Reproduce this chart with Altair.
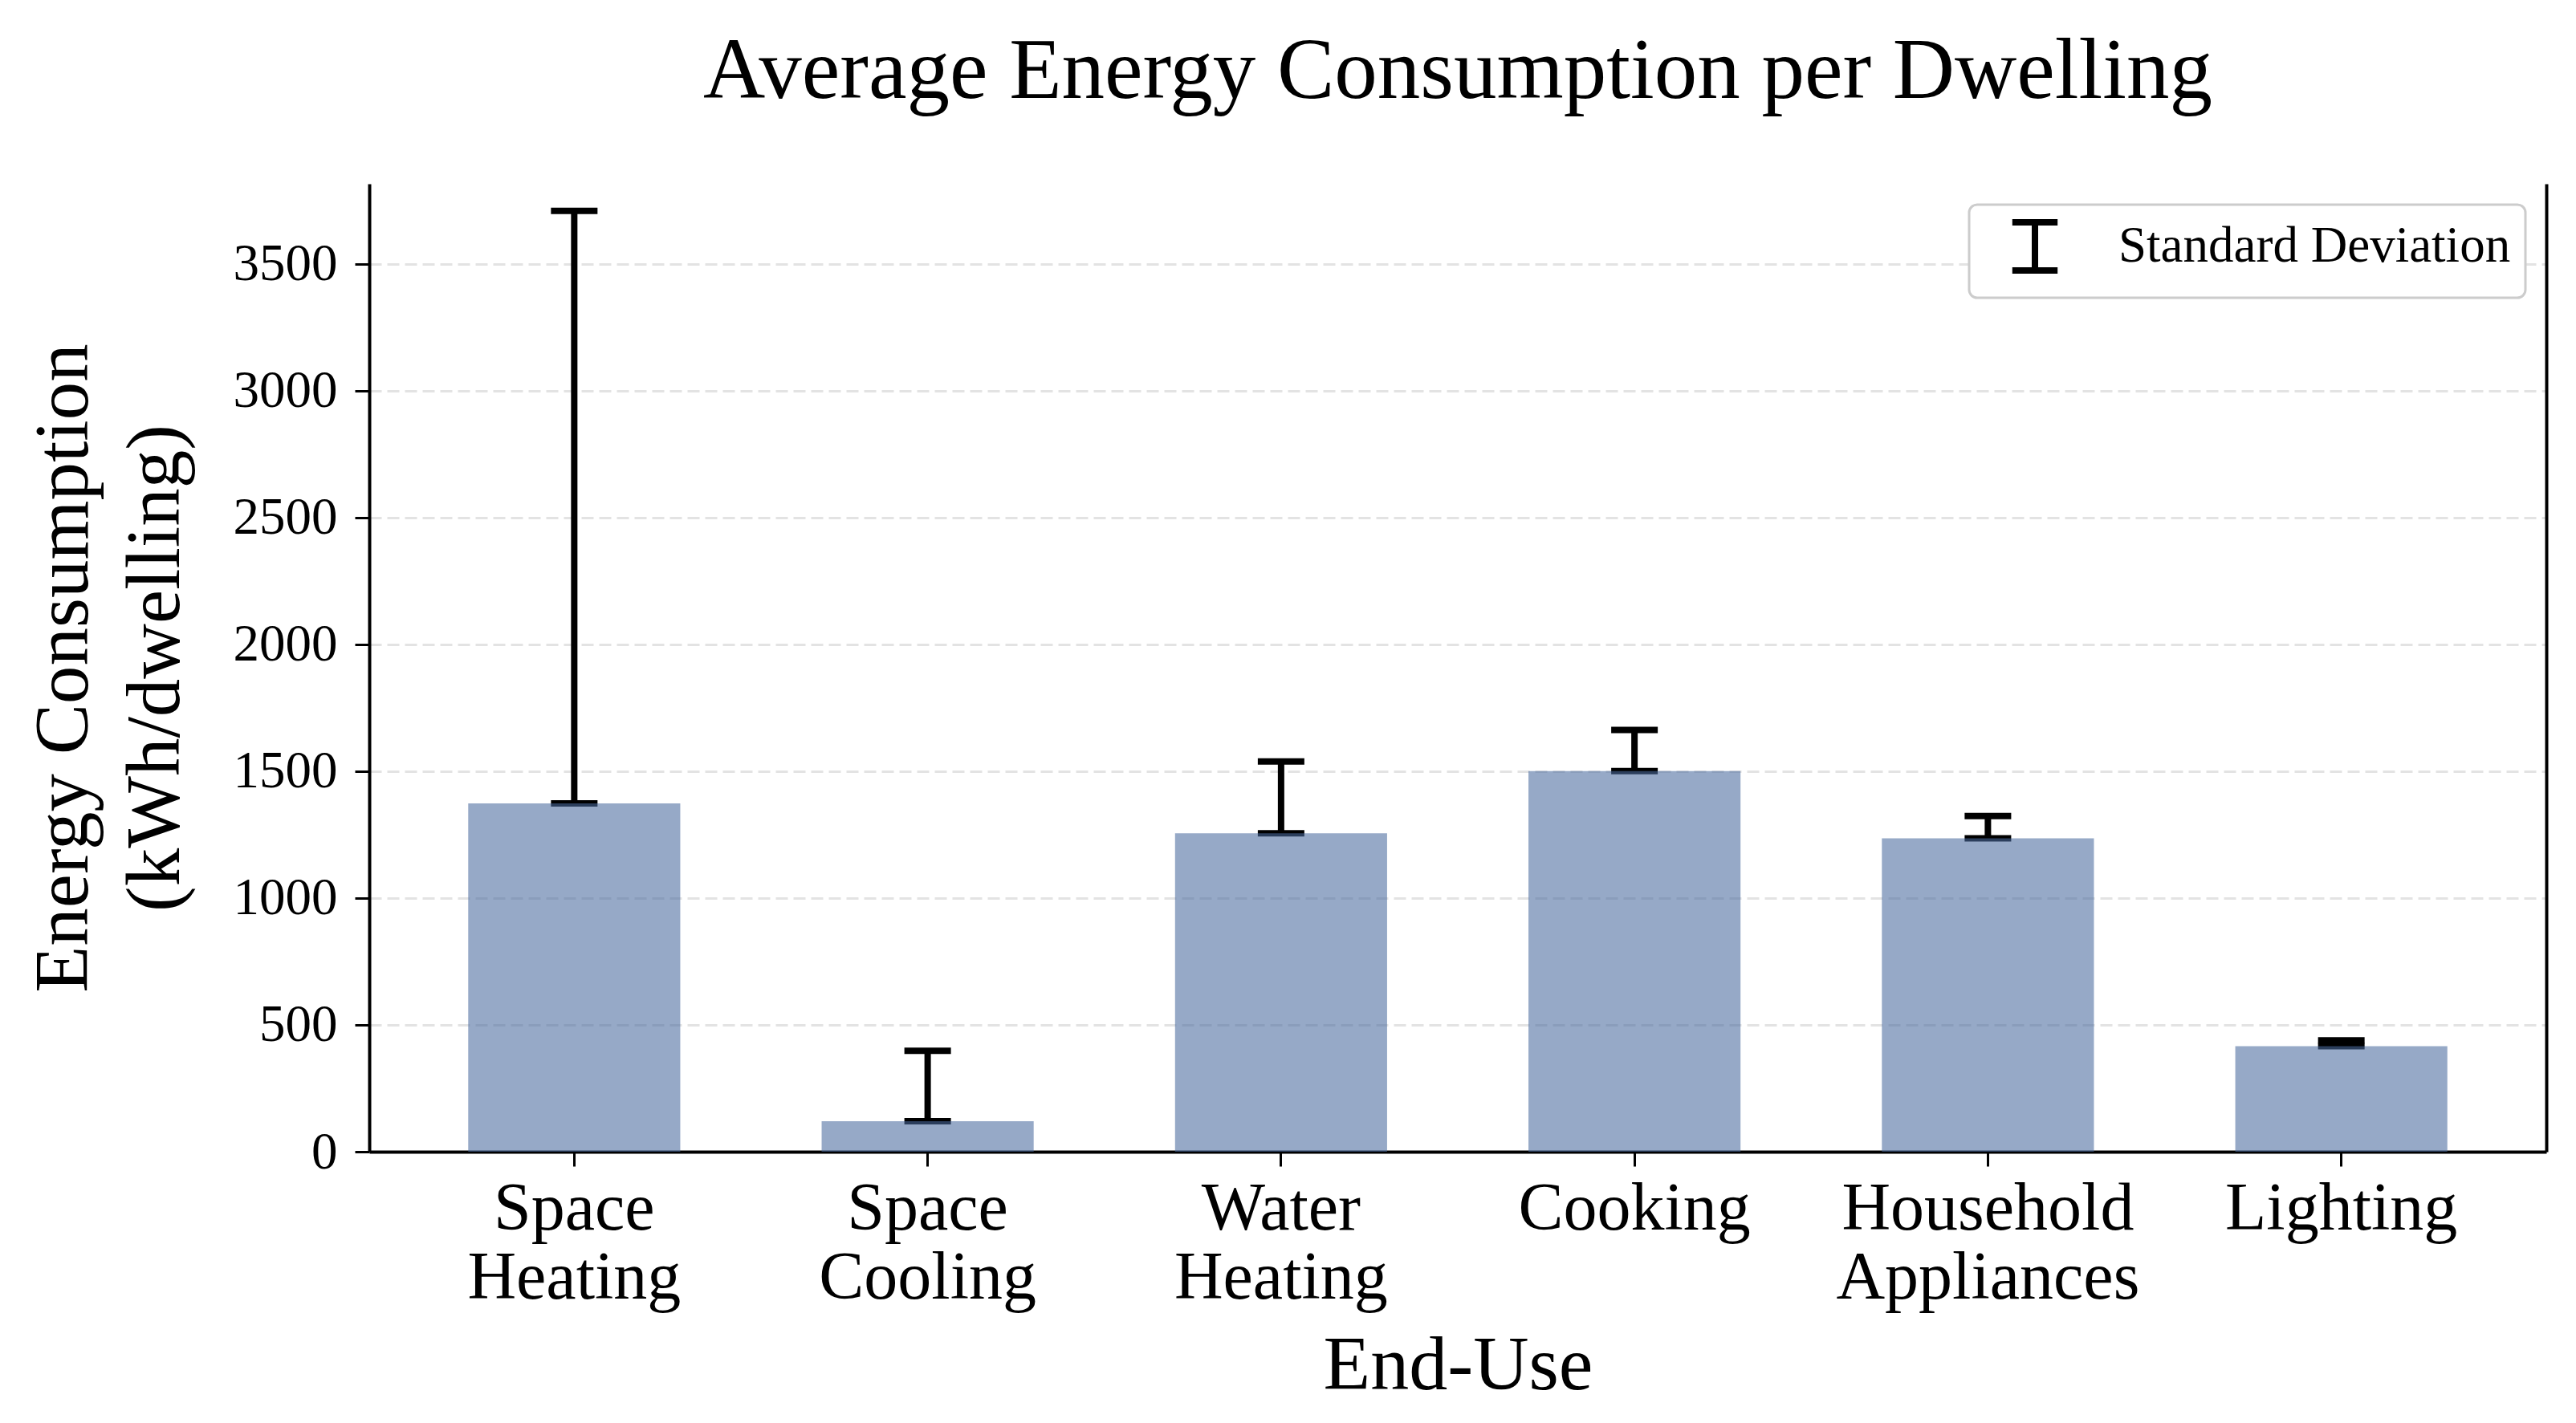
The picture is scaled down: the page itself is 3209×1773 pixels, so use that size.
import altair as alt
import pandas as pd

# ---- data ----
end_uses = ["Space Heating", "Space Cooling", "Water Heating", "Cooking",
            "Household Appliances", "Lighting"]
mean_kwh = [1373, 120, 1255, 1500, 1235, 416]
sd_kwh = [2335, 278, 283, 162, 88, 23]
legend_label = "Standard Deviation"
y_ticks = [0, 500, 1000, 1500, 2000, 2500, 3000, 3500]
y_max = 3815

df = pd.DataFrame({
    "end_use": end_uses,
    "mean": mean_kwh,
    "sd": sd_kwh,
    "series": [legend_label] * len(end_uses),
})
df["upper"] = df["mean"] + df["sd"]

FONT = "Liberation Serif"
yscale = alt.Scale(domain=[0, y_max], nice=False, zero=True)
xscale = alt.Scale(paddingInner=0.4, paddingOuter=0.28)

xaxis = alt.Axis(
    title="End-Use", labelAngle=0, labelExpr="split(datum.label, ' ')",
    labelFont=FONT, labelFontSize=84, labelLineHeight=86, labelColor="black",
    labelPadding=12, labelLimit=0, tickSize=18, tickWidth=3, tickColor="black",
    domainColor="black", domainWidth=4, grid=False,
    titleFont=FONT, titleFontSize=96, titleFontWeight="normal",
    titleColor="black", titlePadding=20,
)
yaxis = alt.Axis(
    title=["Energy Consumption", "(kWh/dwelling)"], values=y_ticks, format="d",
    labelFont=FONT, labelFontSize=65, labelColor="black", labelPadding=22,
    tickSize=18, tickWidth=3, tickColor="black",
    domainColor="black", domainWidth=4,
    grid=True, gridDash=[15, 7], gridColor="#e3e3e3", gridWidth=3,
    titleFont=FONT, titleFontSize=95, titleFontWeight="normal",
    titleColor="black", titlePadding=48, titleLineHeight=114,
)
right_axis = alt.Axis(orient="right", labels=False, ticks=False, grid=False,
                      title=None, domainColor="black", domainWidth=4)

base = alt.Chart(df).encode(
    x=alt.X("end_use:N", sort=end_uses, scale=xscale, axis=xaxis)
)

errbar_path = "M-0.94,-1H0.94M0,-1V1M-0.94,1H0.94"

stem = base.mark_rule(strokeWidth=8).encode(
    y=alt.Y("mean:Q", scale=yscale, axis=None),
    y2="upper:Q",
    stroke=alt.Stroke(
        "series:N",
        scale=alt.Scale(domain=[legend_label], range=["black"]),
        legend=alt.Legend(
            title=None, orient="top-right", offset=26,
            symbolType=errbar_path, symbolSize=3600, symbolStrokeWidth=8,
            symbolStrokeColor="black", symbolOffset=30,
            labelFont=FONT, labelFontSize=63, labelColor="black",
            labelLimit=0, labelOffset=70, padding=18, fillColor="white",
            strokeColor="#cccccc", cornerRadius=10,
        ),
    ),
)
cap_top = base.mark_tick(thickness=8, size=58, color="black", opacity=1).encode(
    y=alt.Y("upper:Q", scale=yscale, axis=None)
)
cap_bottom = base.mark_tick(thickness=8, size=58, color="black", opacity=1).encode(
    y=alt.Y("mean:Q", scale=yscale, axis=None)
)
bars = base.mark_bar(color="#4a6a9e", opacity=0.58).encode(
    y=alt.Y("mean:Q", scale=yscale, axis=yaxis)
)
spine = base.mark_bar(opacity=0).encode(
    y=alt.Y("mean:Q", scale=yscale, axis=right_axis)
)

chart = alt.layer(stem, cap_top, cap_bottom, bars, spine).resolve_scale(
    y="independent"
).properties(
    width=2712, height=1206,
    autosize=alt.AutoSizeParams(type="none"),
    padding={"left": 452, "top": 221, "right": 25, "bottom": 330},
    title=alt.TitleParams(
        "Average Energy Consumption per Dwelling", font=FONT, fontSize=107,
        fontWeight="normal", color="black", anchor="middle", offset=85,
    ),
).configure_view(stroke=None).configure_legend(strokeWidth=3)

chart.save("out.html", embed_options={"renderer": "svg", "actions": False})
